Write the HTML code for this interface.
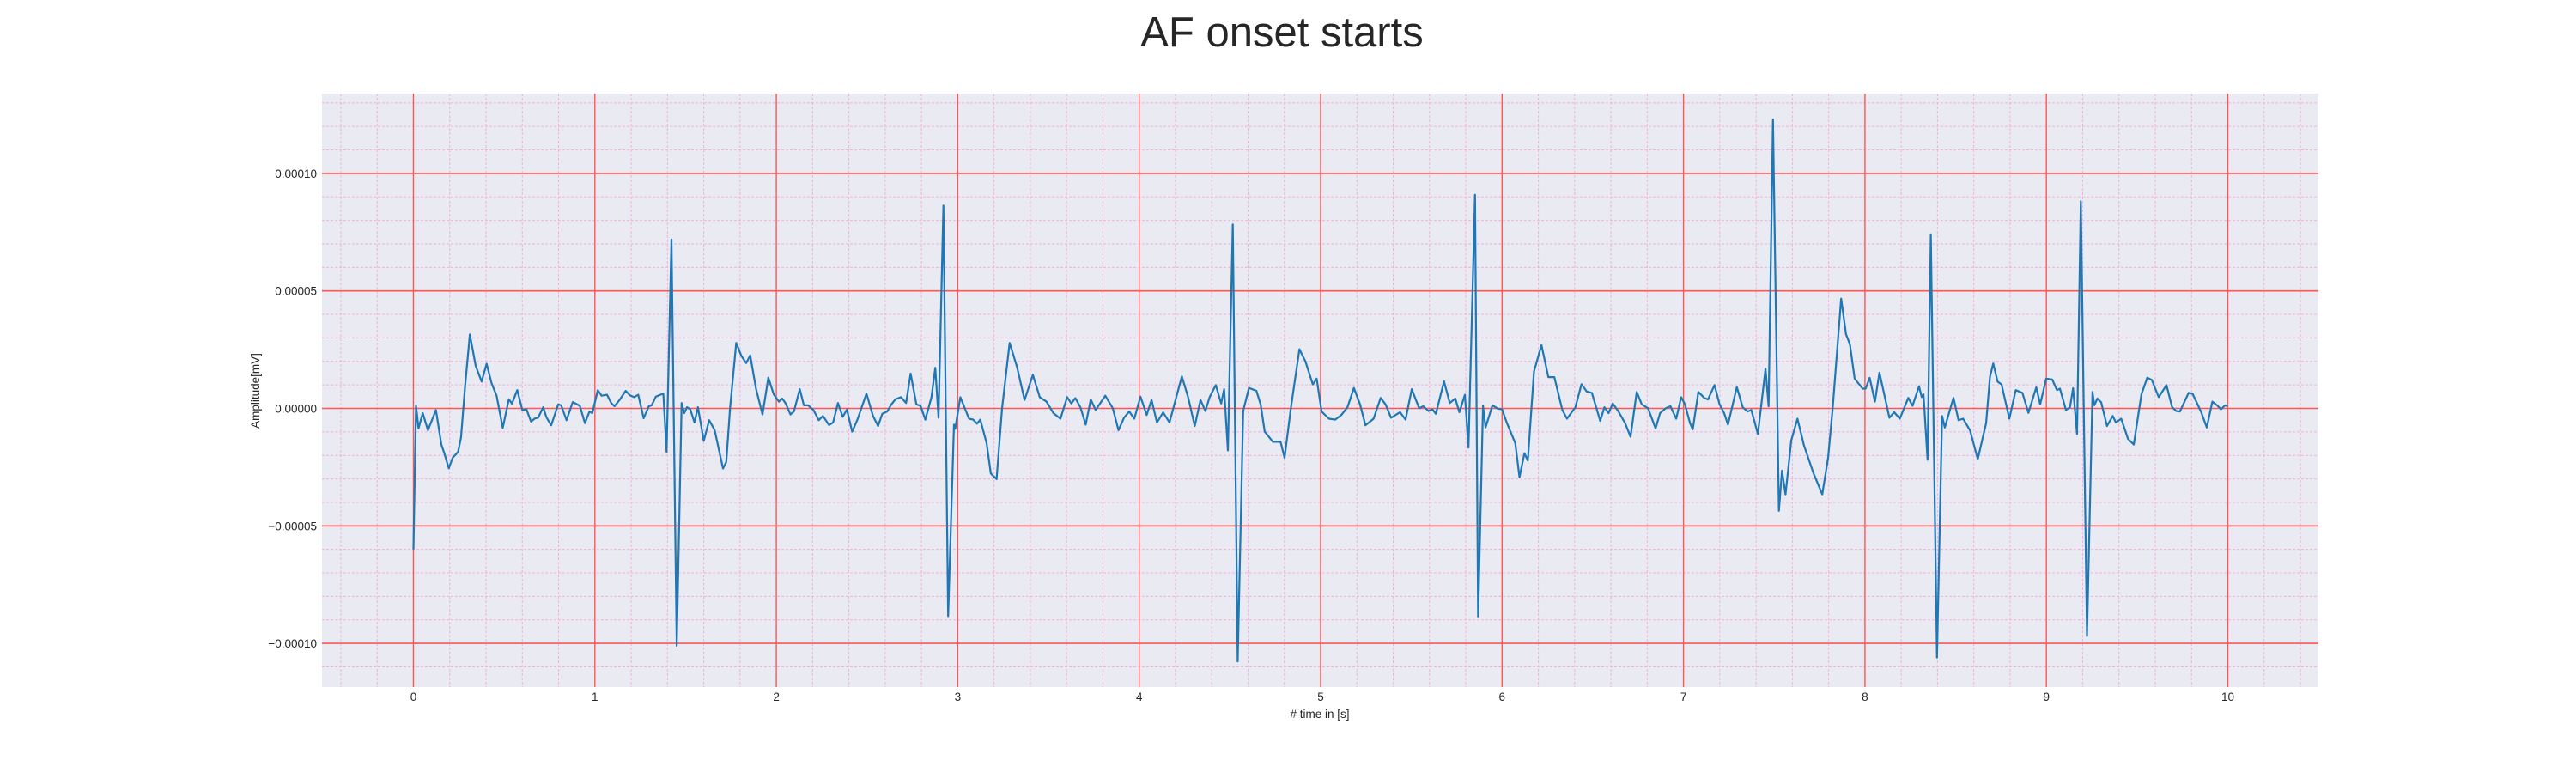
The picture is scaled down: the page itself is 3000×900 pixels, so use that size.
<!DOCTYPE html>
<html><head><meta charset="utf-8"><title>AF onset starts</title>
<style>
html,body{margin:0;padding:0;background:#fff;}
svg{display:block;font-family:"Liberation Sans",sans-serif;}
</style></head>
<body>
<svg id="chart" width="3000" height="900" viewBox="0 0 3000 900" xmlns="http://www.w3.org/2000/svg">
<text x="1493" y="54" font-size="49" fill="#262626" text-anchor="middle">AF onset starts</text>
<rect x="375" y="109" width="2325" height="691" fill="#eaeaf2"/>
<g id="grid"></g>
<g id="series"></g>
<g id="yticks"></g>
<g id="xticks"></g>
<text x="0" y="0" font-size="13.5" fill="#262626" text-anchor="middle" transform="translate(302,455) rotate(-90)">Amplitude[mV]</text>
<text x="1537" y="836" font-size="13.5" fill="#262626" text-anchor="middle"># time in [s]</text>
</svg>
<script>
// data (amplitude in units of 1e-5 mV)
const SCALE = 1e-5;
const times = [0,0.014,0.028,0.051,0.08,0.124,0.154,0.17,0.195,0.216,0.246,0.262,0.285,0.311,0.343,0.376,0.403,0.43,0.458,0.492,0.526,0.543,0.572,0.6,0.623,0.648,0.671,0.687,0.715,0.733,0.759,0.798,0.814,0.844,0.878,0.917,0.945,0.97,0.986,1.016,1.037,1.067,1.09,1.108,1.136,1.17,1.193,1.216,1.239,1.269,1.297,1.313,1.336,1.361,1.377,1.395,1.422,1.451,1.478,1.492,1.508,1.526,1.549,1.568,1.6,1.63,1.66,1.706,1.724,1.745,1.779,1.807,1.834,1.856,1.888,1.924,1.956,1.986,2.014,2.032,2.05,2.078,2.097,2.129,2.152,2.175,2.205,2.234,2.257,2.29,2.313,2.34,2.366,2.389,2.418,2.446,2.497,2.533,2.561,2.584,2.611,2.634,2.657,2.687,2.715,2.74,2.772,2.795,2.821,2.855,2.876,2.894,2.921,2.947,2.979,2.986,3.014,3.062,3.085,3.106,3.124,3.159,3.182,3.214,3.244,3.286,3.327,3.368,3.414,3.452,3.489,3.527,3.566,3.603,3.626,3.648,3.676,3.705,3.733,3.76,3.813,3.854,3.886,3.916,3.945,3.973,4.007,4.041,4.068,4.098,4.132,4.167,4.2,4.235,4.269,4.306,4.338,4.365,4.388,4.422,4.452,4.468,4.489,4.516,4.543,4.573,4.605,4.646,4.669,4.692,4.737,4.779,4.801,4.836,4.883,4.916,4.957,4.978,5.005,5.046,5.08,5.114,5.148,5.183,5.217,5.247,5.292,5.331,5.358,5.388,5.438,5.468,5.502,5.543,5.566,5.594,5.616,5.635,5.68,5.712,5.742,5.765,5.795,5.815,5.851,5.868,5.895,5.909,5.947,5.977,6.0,6.027,6.073,6.096,6.123,6.142,6.176,6.217,6.255,6.288,6.332,6.358,6.404,6.438,6.466,6.495,6.541,6.564,6.587,6.61,6.64,6.678,6.708,6.742,6.77,6.804,6.846,6.871,6.903,6.928,6.96,6.987,7.008,7.036,7.051,7.082,7.114,7.135,7.171,7.199,7.224,7.245,7.294,7.326,7.353,7.374,7.41,7.452,7.469,7.493,7.526,7.543,7.562,7.594,7.628,7.664,7.717,7.765,7.797,7.822,7.869,7.896,7.917,7.943,7.987,8.004,8.026,8.055,8.08,8.135,8.161,8.192,8.239,8.262,8.298,8.313,8.323,8.345,8.363,8.397,8.425,8.44,8.488,8.516,8.541,8.579,8.622,8.668,8.689,8.707,8.731,8.753,8.796,8.831,8.868,8.901,8.944,8.966,8.999,9.032,9.058,9.075,9.108,9.13,9.147,9.169,9.19,9.224,9.254,9.264,9.281,9.302,9.334,9.366,9.383,9.412,9.45,9.482,9.524,9.556,9.581,9.619,9.662,9.693,9.715,9.736,9.784,9.806,9.852,9.884,9.915,9.941,9.962,9.985,10.0];
const values = [-6.0,0.11,-0.85,-0.2,-0.93,-0.07,-1.54,-1.9,-2.55,-2.1,-1.85,-1.24,0.97,3.15,1.81,1.14,1.9,1.08,0.54,-0.83,0.39,0.2,0.78,-0.07,-0.04,-0.56,-0.42,-0.4,0.05,-0.38,-0.72,0.17,0.13,-0.5,0.27,0.11,-0.63,-0.13,-0.2,0.78,0.54,0.58,0.23,0.09,0.36,0.75,0.56,0.48,0.58,-0.42,0.09,0.13,0.5,0.58,0.63,-1.85,7.19,-10.1,0.23,-0.2,0.05,-0.04,-0.6,0.05,-1.38,-0.5,-0.93,-2.56,-2.28,0,2.79,2.24,1.93,2.26,0.84,-0.26,1.31,0.6,0.29,0.42,0.23,-0.26,-0.13,0.82,0.13,0.13,-0.07,-0.5,-0.32,-0.71,-0.6,0.23,-0.36,-0.05,-0.99,-0.5,0.63,-0.32,-0.75,-0.23,-0.13,0.17,0.39,0.48,0.23,1.48,0.17,0.11,-0.48,0.48,1.73,-0.4,8.63,-8.84,-0.69,-0.87,0.48,-0.44,-0.48,-0.65,-0.48,-1.48,-2.77,-3.01,0,2.79,1.75,0.36,1.43,0.48,0.29,-0.2,-0.44,0.48,0.21,0.44,0.05,-0.69,0.38,-0.07,0.54,0.01,-0.93,-0.4,-0.13,-0.44,0.5,-0.28,0.36,-0.6,-0.17,-0.6,0.36,1.36,0.5,-0.75,0.36,-0.11,0.48,0.99,0.21,0.82,-1.79,7.83,-10.77,-0.11,0.87,0.75,0.17,-0.99,-1.42,-1.42,-2.1,0,2.52,2.0,1.02,1.27,-0.13,-0.44,-0.48,-0.28,0.05,0.87,0.17,-0.72,-0.44,0.45,0.17,-0.4,-0.16,-0.48,0.82,0.01,0.09,-0.11,-0.04,-0.23,1.15,0.23,0.42,-0.16,0.58,-1.67,9.09,-8.86,0.11,-0.81,0.13,-0.01,-0.04,-0.63,-1.48,-2.93,-1.91,-2.22,1.58,2.69,1.33,1.33,-0.07,-0.44,0.05,1.03,0.72,0.66,-0.53,0.05,-0.2,0.21,-0.11,-0.63,-1.21,0.7,0.17,0.01,-0.85,-0.2,0.01,0.09,-0.44,0.48,0.17,-0.63,-0.89,0.7,0.45,0.38,0.99,0.17,-0.2,-0.69,0.91,0.05,-0.13,-0.07,-1.09,1.68,0.09,12.3,-4.36,-2.65,-3.66,-1.36,-0.44,-1.58,-2.77,-3.66,-2.1,0,4.67,3.15,2.73,1.27,0.84,0.84,1.3,0.29,1.52,-0.4,-0.16,-0.44,0.45,0.11,0.94,0.48,0.6,-2.19,7.41,-10.6,-0.32,-0.81,0.45,-0.5,-0.44,-0.93,-2.16,-0.63,1.34,1.91,1.14,1.02,-0.44,0.78,0.66,-0.19,0.9,0.17,1.27,1.23,0.78,0.84,-0.07,0.05,0.86,-1.09,8.81,-9.69,0.7,0.13,0.42,0.26,-0.75,-0.32,-0.6,-0.44,-1.3,-1.54,0.6,1.31,1.21,0.48,0.99,0.05,-0.11,-0.13,0.66,0.62,-0.13,-0.81,0.29,0.13,-0.04,0.13,0.09];
const xTickValues = [0,1,2,3,4,5,6,7,8,9,10];
const yTickValues = [0.0001,0.00005,0,-0.00005,-0.0001];
const yTickLabels = ["0.00010","0.00005","0.00000","\u22120.00005","\u22120.00010"];

const PL=375, PR=2700, PT=109, PB=800;
function xs(t){ return 481.5 + t*211.3; }
function ys(v){ return 475.5 - v/0.00005*136.8; }
const NS='http://www.w3.org/2000/svg';
function mk(tag, attrs){ const e=document.createElementNS(NS,tag); for(const k in attrs) e.setAttribute(k,attrs[k]); return e; }

const grid=document.getElementById('grid');
for(let i=-2;i<=52;i++){
  const t=i*0.2; if(i%5===0) continue;
  const x=xs(t); if(x<PL||x>PR) continue;
  const l=mk('line',{x1:x,x2:x,y1:PT,y2:PB,stroke:'#f3b0e0','stroke-width':1,'stroke-dasharray':'3,2'});
  
  
  grid.appendChild(l);
}
for(let i=-12;i<=13;i++){
  if(i%5===0) continue;
  const y=ys(i*1e-5); if(y<PT||y>PB) continue;
  const l=mk('line',{x1:PL,x2:PR,y1:y,y2:y,stroke:'#f3b0e0','stroke-width':1,'stroke-dasharray':'3,2'});
  
  
  grid.appendChild(l);
}
xTickValues.forEach(t=>{
  const x=xs(t);
  const l=mk('line',{x1:x,x2:x,y1:PT,y2:PB,stroke:'#f55','stroke-width':1.4});
  
  
  grid.appendChild(l);
});
yTickValues.forEach(v=>{
  const y=ys(v);
  const l=mk('line',{x1:PL,x2:PR,y1:y,y2:y,stroke:'#f55','stroke-width':1.6});
  
  
  grid.appendChild(l);
});

let d='';
for(let i=0;i<times.length;i++){
  d += (i?'L':'M') + xs(times[i]).toFixed(1) + ',' + ys(values[i]*SCALE).toFixed(1);
}
const path=mk('path',{d:d,fill:'none',stroke:'#1f77b4','stroke-width':2.2,'stroke-linejoin':'round'});


document.getElementById('series').appendChild(path);

const yt=document.getElementById('yticks');
yTickValues.forEach((v,i)=>{
  const t=mk('text',{x:369,y:ys(v)+5,'font-size':13.5,fill:'#262626','text-anchor':'end'});
  
  
  t.textContent=yTickLabels[i];
  yt.appendChild(t);
});
const xt=document.getElementById('xticks');
xTickValues.forEach(v=>{
  const t=mk('text',{x:xs(v),y:816,'font-size':13.5,fill:'#262626','text-anchor':'middle'});
  
  
  t.textContent=String(v);
  xt.appendChild(t);
});
</script>
</body></html>
